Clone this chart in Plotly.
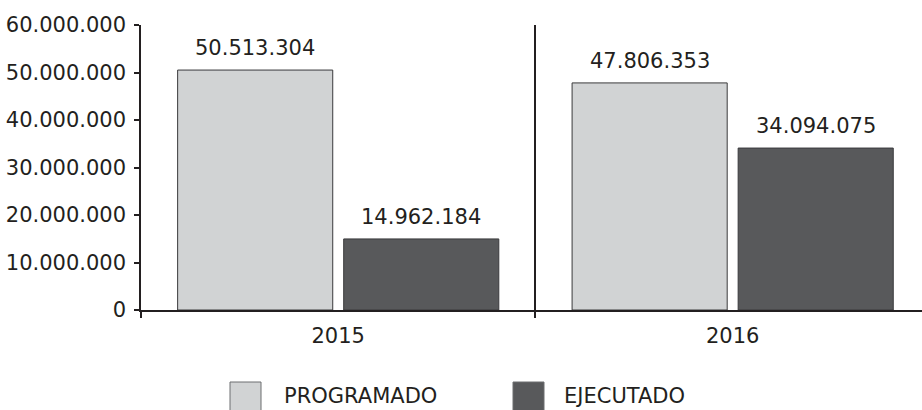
import plotly.graph_objects as go

# Data
years = ["2015", "2016"]
programado = [50513304, 47806353]
ejecutado = [14962184, 34094075]
series_names = ["PROGRAMADO", "EJECUTADO"]
y_ticks = [0, 10000000, 20000000, 30000000, 40000000, 50000000, 60000000]

FONT = "DejaVu Sans"
INK = "#231f20"
LIGHT = "#d1d3d4"
DARK = "#58595b"
EDGE = "#3a3a3c"

BARGAP = 0.158
GROUPGAP = 0.066


def fmt(v):
    return f"{v:,}".replace(",", ".")


fig = go.Figure()
fig.add_trace(go.Bar(x=years, y=programado, name=series_names[0],
                     marker=dict(color=LIGHT, line=dict(color=EDGE, width=1))))
fig.add_trace(go.Bar(x=years, y=ejecutado, name=series_names[1],
                     marker=dict(color=DARK, line=dict(color=EDGE, width=1))))

# value labels above each bar (two bars per group, centred at +/- a quarter of the group width)
half = (1 - BARGAP) / 4
for i in range(len(years)):
    for vals, off in ((programado, -half), (ejecutado, half)):
        fig.add_annotation(x=i + off, y=vals[i], text=fmt(vals[i]),
                           xref="x", yref="y", showarrow=False,
                           yanchor="bottom", yshift=8,
                           font=dict(family=FONT, size=21, color=INK))

# custom legend below the chart
legend_items = [(series_names[0], LIGHT, 89, 141), (series_names[1], DARK, 372, 421)]
for name, color, sq_left, txt_left in legend_items:
    fig.add_shape(type="rect", xref="paper", yref="paper",
                  xsizemode="pixel", ysizemode="pixel", xanchor=0, yanchor=0,
                  x0=sq_left, x1=sq_left + 31, y0=-72, y1=-115,
                  fillcolor=color, line=dict(color="#6d6e71", width=1))
    fig.add_annotation(x=txt_left / 781, y=0, xref="paper", yref="paper",
                       xanchor="left", yanchor="middle", yshift=-86,
                       showarrow=False, text=name,
                       font=dict(family=FONT, size=21, color=INK))

fig.update_layout(
    width=922, height=410,
    margin=dict(l=141, r=0, t=25, b=100),
    paper_bgcolor="white", plot_bgcolor="white",
    barmode="group", bargap=BARGAP, bargroupgap=GROUPGAP,
    showlegend=False,
    font=dict(family=FONT, size=21, color=INK),
)
fig.update_xaxes(
    type="category", range=[-0.5, 1.48],
    showline=True, linecolor=INK, linewidth=1.5,
    tickson="boundaries", ticks="outside", ticklen=6, tickwidth=1.5, tickcolor=INK,
    showgrid=True, gridcolor=INK, gridwidth=1.5,
    ticklabelstandoff=6,
    tickfont=dict(family=FONT, size=21, color=INK),
)
fig.update_yaxes(
    range=[0, 60000000],
    tickvals=y_ticks, ticktext=[fmt(v) for v in y_ticks],
    showline=True, linecolor=INK, linewidth=1.5,
    ticks="outside", ticklen=5, tickwidth=1.5, tickcolor=INK,
    showgrid=False, zeroline=False,
    ticklabelstandoff=4,
    tickfont=dict(family=FONT, size=21, color=INK),
)

fig.write_html("out.html")
